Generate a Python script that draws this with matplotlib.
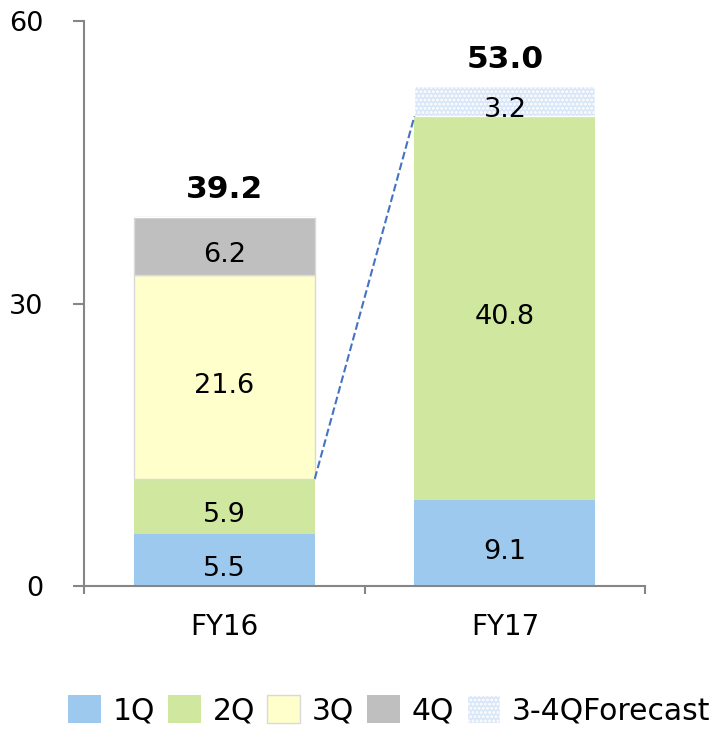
import matplotlib.pyplot as plt
from matplotlib.patches import Patch

plt.rcParams['font.family'] = ['DejaVu Sans']
plt.rcParams['hatch.linewidth'] = 1.4

years = ['FY16', 'FY17']
q1 = [5.5, 9.1]
q2 = [5.9, 40.8]
q3 = [21.6, 0.0]
q4 = [6.2, 0.0]
forecast = [0.0, 3.2]
totals = [39.2, 53.0]
yticks = [0, 30, 60]

colors = {
    '1Q': '#9DC9EF',
    '2Q': '#CFE79E',
    '3Q': '#FFFFCC',
    '4Q': '#BFBFBF',
    'fc': '#D9E6F7',
}
axis_gray = '#868686'
width = 0.645
fs = 19.5

fig = plt.figure(figsize=(7.17, 7.29), dpi=100)
ax = fig.add_axes([0.117, 0.196, 0.783, 0.775])

x = list(range(len(years)))
bottom = [0.0, 0.0]


def stack(vals, color, edge='none', hatch=None):
    global bottom
    ax.bar(x, vals, width, bottom=bottom, color=color,
           edgecolor=edge, linewidth=1 if edge != 'none' else 0,
           hatch=hatch, zorder=2)
    for i, v in enumerate(vals):
        if v > 0:
            ax.annotate(f'{v:.1f}', (x[i], bottom[i] + v / 2),
                        xytext=(0, -4), textcoords='offset points',
                        ha='center', va='center_baseline', fontsize=fs,
                        color='black', zorder=4)
    bottom = [b + v for b, v in zip(bottom, vals)]


stack(q1, colors['1Q'])
stack(q2, colors['2Q'])
top_q2_fy16 = q1[0] + q2[0]
stack(q3, colors['3Q'], edge='#D9D9D9')
stack(q4, colors['4Q'], edge='#D9D9D9')
stack(forecast, colors['fc'], edge='white', hatch='....')

# dashed link between cumulative 1H results
ax.plot([x[0] + width / 2, x[1] - width / 2],
        [top_q2_fy16, q1[1] + q2[1]],
        ls='--', color='#4472C4', lw=1.5, zorder=3)

for i, t in enumerate(totals):
    ax.annotate(f'{t:.1f}', (x[i], t), xytext=(0, 14),
                textcoords='offset points', ha='center', va='baseline',
                fontsize=22.5, fontweight='bold')

ax.set_xlim(-0.5, 1.5)
ax.set_ylim(0, 60)
ax.set_yticks(yticks)
ax.set_xticks(x)
ax.set_xticklabels(years)
ax.set_xticks([-0.5, 0.5, 1.5], minor=True)

for s in ['top', 'right']:
    ax.spines[s].set_visible(False)
for s in ['left', 'bottom']:
    ax.spines[s].set_color(axis_gray)
    ax.spines[s].set_linewidth(1.5)

ax.tick_params(axis='y', length=8, width=1.5, color=axis_gray,
               labelsize=fs, pad=21)
ax.tick_params(axis='x', which='major', length=0, labelsize=20, pad=19)
ax.tick_params(axis='x', which='minor', length=6, width=1.5, color=axis_gray)

handles = [
    Patch(facecolor=colors['1Q'], label='1Q'),
    Patch(facecolor=colors['2Q'], label='2Q'),
    Patch(facecolor=colors['3Q'], edgecolor='#D9D9D9', label='3Q'),
    Patch(facecolor=colors['4Q'], label='4Q'),
    Patch(facecolor=colors['fc'], edgecolor='white', hatch='....',
          label='3-4QForecast'),
]
fig.legend(handles=handles, loc='center', bbox_to_anchor=(0.5425, 0.026),
           ncol=5, frameon=False, fontsize=21.5, handlelength=1.1,
           handleheight=1.1, handletextpad=0.4, columnspacing=0.42,
           borderaxespad=0, borderpad=0)

fig.savefig('out.png', dpi=100)
